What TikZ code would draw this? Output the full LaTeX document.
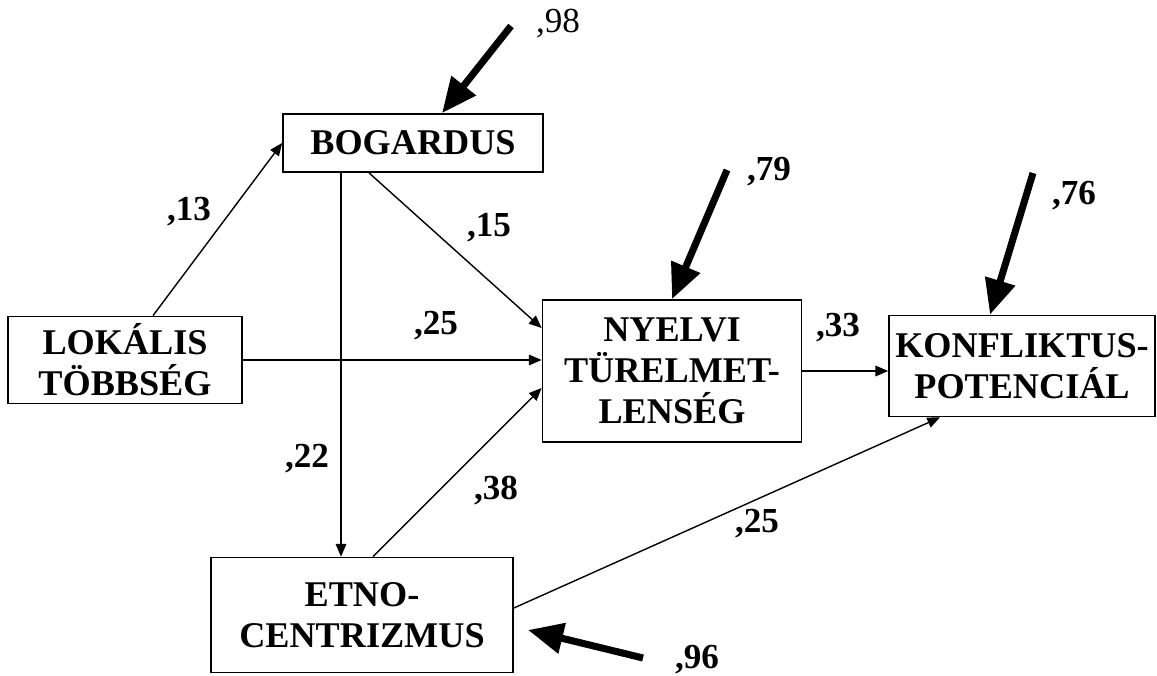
\documentclass[tikz,border=0pt]{standalone}
\usepackage{fontspec}
\setmainfont{Liberation Serif}
\usetikzlibrary{arrows.meta}

\begin{document}
\begin{tikzpicture}[x=0.1mm, y=-0.1mm,
    box/.style={draw, line width=0.5pt, inner sep=0pt, align=center,
      font=\fontsize{10.3}{11.6}\selectfont\bfseries},
    lbl/.style={font=\fontsize{10}{11}\selectfont\bfseries},
    path/.style={line width=0.4pt, -{Triangle[length=3.6pt,width=3pt]}},
    err/.style={line width=2pt, -{Triangle[length=10pt,width=8.5pt]}}]
        \useasboundingbox (0,0) rectangle (1157,675);
        \node[box, minimum width=26mm, minimum height=5.8mm] (bog) at (413,143) {BOGARDUS};
        \node[box, minimum width=23.4mm, minimum height=8.7mm] (lok) at (125,360) {LOKÁLIS\\TÖBBSÉG};
        \node[box, minimum width=25.9mm, minimum height=14.2mm] (nye) at (672,371) {NYELVI\\TÜRELMET-\\LENSÉG};
        \node[box, minimum width=26.6mm, minimum height=10.1mm] (kon) at (1022,366) {KONFLIKTUS-\\POTENCIÁL};
        \node[box, minimum width=30.2mm, minimum height=11.5mm] (etn) at (362,615) {ETNO-\\CENTRIZMUS};
        \coordinate (e1) at (511,26);
        \coordinate (e2) at (727,170);
        \coordinate (e3) at (1033,173);
        \coordinate (e4) at (643,658);
        \coordinate (t4) at (528,630);
        \draw[path] ([shift={(28,0)}]lok.north) -- (bog.west);
        \draw[path] ([shift={(-44,0)}]bog.south) -- ([shift={(0,-43)}]nye.west);
        \draw[path] ([shift={(-72,0)}]bog.south) -- ([shift={(-72,0)}]bog.south |- etn.north);
        \draw[path] (lok.east) -- (lok.east -| nye.west);
        \draw[path] ([shift={(11,0)}]etn.north) -- ([shift={(0,17)}]nye.west);
        \draw[path] (nye.east) -- (nye.east -| kon.west);
        \draw[path] ([shift={(0,-7)}]etn.east) -- ([shift={(-82,0)}]kon.south);
        \draw[err] (e1) -- ([shift={(29,0)}]bog.north);
        \draw[err] (e2) -- (nye.north);
        \draw[err] (e3) -- ([shift={(-32,0)}]kon.north);
        \draw[err] (e4) -- (t4);
        \node[font=\fontsize{10}{11}\selectfont] (l1) at (558,24) {,98};
        \node[lbl] (l2) at (189,212) {,13};
        \node[lbl] (l3) at (489,228) {,15};
        \node[lbl] (l4) at (436,326) {,25};
        \node[lbl] (l5) at (769,172) {,79};
        \node[lbl] (l6) at (1074,196) {,76};
        \node[lbl] (l7) at (838,328) {,33};
        \node[lbl] (l8) at (307,459) {,22};
        \node[lbl] (l9) at (496,491) {,38};
        \node[lbl] (l10) at (757,524) {,25};
        \node[lbl] (l11) at (697,660) {,96};
      \end{tikzpicture}
\end{document}
